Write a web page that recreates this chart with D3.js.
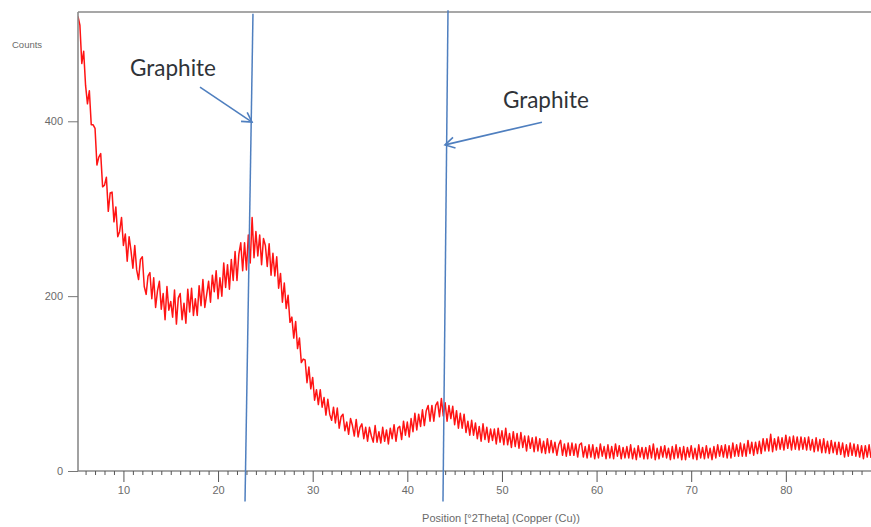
<!DOCTYPE html>
<html>
<head>
<meta charset="utf-8">
<script src="https://cdn.jsdelivr.net/npm/d3@7"></script>
<style>
  html, body { margin: 0; padding: 0; background: #fff; }
  svg { display: block; }
</style>
</head>
<body>
<svg id="chart" width="871" height="527"></svg>
<script>
// ---- DATA ----
// 2Theta scan: start angle and step (degrees), counts
const thetaStart = 5.2;
const thetaStep = 0.2;
const counts = [
  520, 510, 466, 480, 441, 420, 435, 396, 396, 392,
  350, 359, 363, 325, 327, 336, 297, 318, 319, 285,
  302, 268, 274, 290, 258, 271, 240, 268, 252, 232,
  258, 230, 219, 242, 245, 211, 202, 223, 227, 197,
  221, 187, 206, 217, 185, 203, 173, 211, 184, 194,
  176, 207, 168, 198, 203, 173, 192, 169, 208, 182,
  209, 178, 197, 178, 212, 189, 219, 187, 202, 217,
  193, 224, 205, 229, 197, 221, 200, 238, 210, 236,
  208, 242, 218, 251, 218, 248, 261, 229, 261, 230,
  270, 238, 290, 244, 274, 246, 270, 236, 266, 258,
  234, 260, 224, 249, 223, 245, 209, 226, 193, 215,
  186, 201, 170, 176, 152, 171, 140, 152, 124, 128,
  127, 101, 119, 94, 107, 81, 93, 76, 93, 73,
  84, 64, 82, 65, 58, 73, 55, 72, 49, 62,
  65, 46, 56, 42, 60, 52, 40, 59, 39, 50,
  54, 37, 50, 34, 50, 40, 33, 52, 33, 45,
  32, 50, 34, 47, 31, 49, 37, 53, 34, 49,
  51, 36, 57, 41, 56, 39, 60, 45, 66, 47,
  65, 51, 70, 52, 69, 75, 57, 75, 57, 75,
  79, 62, 83, 63, 78, 57, 75, 60, 74, 53,
  69, 49, 66, 49, 65, 44, 57, 41, 58, 41,
  55, 37, 51, 34, 54, 36, 50, 33, 48, 35,
  48, 31, 49, 33, 46, 30, 49, 30, 43, 27,
  45, 28, 43, 26, 44, 27, 40, 23, 40, 26,
  38, 22, 39, 23, 37, 21, 34, 20, 37, 21,
  35, 21, 33, 18, 30, 35, 18, 31, 17, 32,
  18, 32, 18, 31, 16, 30, 32, 16, 28, 15,
  30, 16, 30, 14, 27, 15, 31, 17, 28, 14,
  30, 15, 28, 14, 31, 17, 29, 14, 27, 15,
  28, 15, 30, 14, 26, 13, 29, 16, 27, 14,
  27, 14, 29, 15, 31, 13, 26, 14, 28, 16,
  29, 15, 26, 13, 28, 14, 30, 15, 27, 13,
  28, 13, 27, 16, 29, 14, 26, 13, 30, 15,
  27, 14, 29, 15, 26, 13, 28, 15, 30, 17,
  29, 16, 30, 15, 29, 15, 32, 17, 30, 17,
  32, 17, 31, 17, 35, 20, 33, 18, 33, 20,
  34, 20, 37, 23, 37, 23, 42, 22, 37, 24,
  39, 25, 38, 24, 41, 26, 39, 24, 40, 25,
  39, 24, 39, 25, 38, 24, 39, 24, 36, 22,
  38, 23, 36, 21, 37, 21, 34, 20, 35, 21,
  33, 19, 33, 19, 32, 16, 30, 17, 32, 18,
  31, 17, 30, 16, 29, 14, 29, 16, 30, 15
];
const xDomain = [5.2, 89.0];
const yDomain = [0, 525];
const xMajorTicks = [10, 20, 30, 40, 50, 60, 70, 80];
const yTicks = [0, 200, 400];
const yAxisTitle = "Counts";
const xAxisTitle = "Position [°2Theta] (Copper (Cu))";

// Annotation marker lines (2Theta at bottom / top, counts at bottom / top)
const markerBottomX = [22.85, 43.77];
const markerTopX = [23.69, 44.3];
const markerBottomY = [-35, -35];
const markerTopY = [523, 527];
// Annotation arrows: tail -> head in data coordinates
const arrowTailX = [18.09, 54.23];
const arrowTailY = [439, 399];
const arrowHeadX = [23.59, 43.98];
const arrowHeadY = [399, 373];
const labelText = ["Graphite", "Graphite"];
const labelX = [10.7, 50.1];
const labelY = [452, 415];

// ---- CHART ----
(function () {
const svg = d3.select("#chart");
const mLeft = 78, mRight = 871, mTop = 12, mBottom = 471;

const x = d3.scaleLinear().domain(xDomain).range([mLeft, mRight]);
const y = d3.scaleLinear().domain(yDomain).range([mBottom, mTop]);

const data = counts.map((c, i) => ({ t: thetaStart + i * thetaStep, c }));

svg.append("defs").append("clipPath").attr("id", "plotclip")
  .append("rect").attr("x", mLeft).attr("y", mTop).attr("width", mRight - mLeft).attr("height", mBottom - mTop);

const axisColor = "#8a8a8a";
const textColor = "#6a6a6a";
const font = "Liberation Sans, Arial, sans-serif";

// top border
svg.append("line")
  .attr("x1", x(xDomain[0])).attr("x2", x(xDomain[1]))
  .attr("y1", y(yDomain[1])).attr("y2", y(yDomain[1]))
  .attr("stroke", axisColor).attr("stroke-width", 1.6);

// data line
svg.append("path")
  .datum(data)
  .attr("clip-path", "url(#plotclip)")
  .attr("fill", "none")
  .attr("stroke", "#ff1414")
  .attr("stroke-width", 1.5)
  .attr("stroke-linejoin", "round")
  .attr("d", d3.line().x(d => x(d.t)).y(d => y(d.c)));

// X axis: minor ticks every degree
const xMinor = d3.range(6, 89, 1).filter(v => !xMajorTicks.includes(v));
const gx = svg.append("g").attr("transform", `translate(0,${mBottom})`);
gx.call(d3.axisBottom(x).tickValues(xMinor).tickSize(4).tickFormat(""));
const gxMaj = svg.append("g").attr("transform", `translate(0,${mBottom})`);
gxMaj.call(d3.axisBottom(x).tickValues(xMajorTicks).tickSize(11).tickPadding(4).tickFormat(d3.format("d")));
[gx, gxMaj].forEach(g => {
  g.select(".domain").attr("stroke", axisColor).attr("stroke-width", 1.6);
  g.selectAll(".tick line").attr("stroke", "#555").attr("stroke-width", 1);
  g.selectAll(".tick text").attr("fill", textColor)
    .attr("font-family", font).attr("font-size", 11);
});
gx.select(".domain").attr("d", `M${mLeft},0H${mRight}`);
gxMaj.select(".domain").remove();

// Y axis
const gy = svg.append("g").attr("transform", `translate(${mLeft},0)`);
gy.call(d3.axisLeft(y).tickValues(yTicks).tickSize(10).tickPadding(5).tickFormat(d3.format("d")));
gy.select(".domain").attr("stroke", axisColor).attr("stroke-width", 1.6)
  .attr("d", `M0,${mTop}V${mBottom}`);
gy.selectAll(".tick line").attr("stroke", "#777").attr("stroke-width", 1);
gy.selectAll(".tick text").attr("fill", textColor)
  .attr("font-family", font).attr("font-size", 11);

// Axis titles
svg.append("text").attr("x", 12).attr("y", 48)
  .attr("fill", textColor).attr("font-family", font)
  .attr("font-size", 9.5).text(yAxisTitle);
svg.append("text").attr("x", 501).attr("y", 522)
  .attr("text-anchor", "middle")
  .attr("fill", textColor).attr("font-family", font)
  .attr("font-size", 11).text(xAxisTitle);

// Annotations
const blue = "#4f7fbf";
markerTopX.forEach((tx, i) => {
  svg.append("line")
    .attr("x1", x(markerBottomX[i])).attr("y1", y(markerBottomY[i]))
    .attr("x2", x(tx)).attr("y2", y(markerTopY[i]))
    .attr("stroke", blue).attr("stroke-width", 1.5);
});

arrowTailX.forEach((tx, i) => {
  const x1 = x(tx), y1 = y(arrowTailY[i]);
  const x2 = x(arrowHeadX[i]), y2 = y(arrowHeadY[i]);
  svg.append("line").attr("x1", x1).attr("y1", y1).attr("x2", x2).attr("y2", y2)
    .attr("stroke", blue).attr("stroke-width", 1.6);
  const ang = Math.atan2(y2 - y1, x2 - x1);
  const L = 11, a = Math.PI / 6;
  const p1 = [x2 - L * Math.cos(ang - a), y2 - L * Math.sin(ang - a)];
  const p2 = [x2 - L * Math.cos(ang + a), y2 - L * Math.sin(ang + a)];
  svg.append("path")
    .attr("d", `M${p1[0]},${p1[1]}L${x2},${y2}L${p2[0]},${p2[1]}`)
    .attr("fill", "none").attr("stroke", blue).attr("stroke-width", 1.6)
    .attr("stroke-linejoin", "miter");
});

labelText.forEach((t, i) => {
  svg.append("text").attr("x", x(labelX[i])).attr("y", y(labelY[i]))
    .attr("fill", "#2f3338").attr("font-family", "Lato, 'Open Sans', sans-serif")
    .attr("font-size", 22.5).text(t);
});
})();
</script>
</body>
</html>
